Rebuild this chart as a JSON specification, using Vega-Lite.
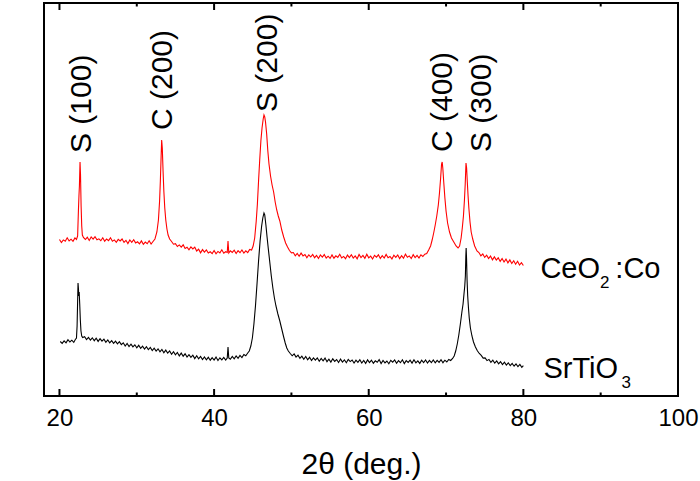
{
  "$schema": "https://vega.github.io/schema/vega-lite/v6.json",
  "width": 634,
  "height": 393,
  "autosize": "none",
  "padding": {"left": 44, "top": 3, "right": 22, "bottom": 85},
  "background": "white",
  "config": {
    "font": "Liberation Sans",
    "view": {"stroke": null},
    "axis": {
      "grid": false,
      "domain": false,
      "tickColor": "black",
      "tickWidth": 2,
      "labelColor": "black",
      "titleColor": "black",
      "titleFontWeight": "normal",
      "labelFont": "Liberation Sans",
      "titleFont": "Liberation Sans"
    }
  },
  "datasets": {
    "frame": [{"t1": 18, "t2": 100, "i1": 0, "i2": 393}],
    "outline": [
      {"t": 18, "i": 0, "k": 1}, {"t": 18, "i": 393, "k": 2}, {"t": 100, "i": 393, "k": 3},
      {"t": 100, "i": 0, "k": 4}, {"t": 18, "i": 0, "k": 5}
    ],
    "major": [{"t": 20}, {"t": 40}, {"t": 60}, {"t": 80}, {"t": 100}],
    "minor": [{"t": 30}, {"t": 50}, {"t": 70}, {"t": 90}],
    "ceo": [
      {"t": 20.0, "i": 156.5}, {"t": 20.25, "i": 153.4}, {"t": 20.5, "i": 156.1}, {"t": 20.75, "i": 154.8},
      {"t": 21.0, "i": 158.2}, {"t": 21.25, "i": 155.0}, {"t": 21.5, "i": 156.8}, {"t": 21.75, "i": 154.7},
      {"t": 22.0, "i": 158.1}, {"t": 22.2, "i": 156.6}, {"t": 22.35, "i": 160}, {"t": 22.45, "i": 185},
      {"t": 22.52, "i": 200}, {"t": 22.58, "i": 210}, {"t": 22.66, "i": 234}, {"t": 22.72, "i": 222},
      {"t": 22.8, "i": 190}, {"t": 22.88, "i": 170}, {"t": 22.96, "i": 161}, {"t": 23.1, "i": 158.5},
      {"t": 23.35, "i": 156.5}, {"t": 23.6, "i": 158.7}, {"t": 23.85, "i": 155.5}, {"t": 24.1, "i": 159.0},
      {"t": 24.35, "i": 156.8}, {"t": 24.6, "i": 159.3}, {"t": 24.85, "i": 156.2}, {"t": 25.1, "i": 157.2},
      {"t": 25.35, "i": 155.3}, {"t": 25.6, "i": 158.2}, {"t": 25.85, "i": 154.8}, {"t": 26.1, "i": 157.0},
      {"t": 26.35, "i": 155.4}, {"t": 26.6, "i": 158.3}, {"t": 26.85, "i": 154.8}, {"t": 27.1, "i": 156.1},
      {"t": 27.35, "i": 153.7}, {"t": 27.6, "i": 156.6}, {"t": 27.85, "i": 155.0}, {"t": 28.1, "i": 157.0},
      {"t": 28.35, "i": 153.6}, {"t": 28.6, "i": 155.7}, {"t": 28.85, "i": 152.4}, {"t": 29.1, "i": 156.0},
      {"t": 29.35, "i": 153.7}, {"t": 29.6, "i": 156.3}, {"t": 29.85, "i": 153.1}, {"t": 30.1, "i": 154.2},
      {"t": 30.35, "i": 152.2}, {"t": 30.6, "i": 155.1}, {"t": 30.85, "i": 151.7}, {"t": 31.1, "i": 153.9},
      {"t": 31.35, "i": 152.3}, {"t": 31.6, "i": 155.2}, {"t": 31.85, "i": 152.0}, {"t": 32.1, "i": 154.5},
      {"t": 32.35, "i": 157}, {"t": 32.6, "i": 164}, {"t": 32.8, "i": 176}, {"t": 32.95, "i": 195},
      {"t": 33.05, "i": 215}, {"t": 33.15, "i": 240}, {"t": 33.22, "i": 256}, {"t": 33.3, "i": 248},
      {"t": 33.4, "i": 225}, {"t": 33.5, "i": 205}, {"t": 33.62, "i": 188}, {"t": 33.75, "i": 176},
      {"t": 33.9, "i": 167}, {"t": 34.05, "i": 161}, {"t": 34.25, "i": 157}, {"t": 34.5, "i": 154.5},
      {"t": 34.75, "i": 151.8}, {"t": 35.0, "i": 152.3}, {"t": 35.25, "i": 149.5}, {"t": 35.5, "i": 151.1},
      {"t": 35.75, "i": 148.9}, {"t": 36.0, "i": 151.2}, {"t": 36.25, "i": 147.6}, {"t": 36.5, "i": 148.8},
      {"t": 36.75, "i": 146.2}, {"t": 37.0, "i": 149.1}, {"t": 37.25, "i": 147.1}, {"t": 37.5, "i": 148.8},
      {"t": 37.75, "i": 145.0}, {"t": 38.0, "i": 146.8}, {"t": 38.25, "i": 143.2}, {"t": 38.5, "i": 146.4},
      {"t": 38.75, "i": 143.8}, {"t": 39.0, "i": 146.0}, {"t": 39.25, "i": 143.0}, {"t": 39.5, "i": 144.2},
      {"t": 39.75, "i": 142.4}, {"t": 40.0, "i": 145.5}, {"t": 40.25, "i": 142.2}, {"t": 40.5, "i": 144.6},
      {"t": 40.75, "i": 143.1}, {"t": 41.0, "i": 146.2}, {"t": 41.25, "i": 142.8}, {"t": 41.5, "i": 144.3},
      {"t": 41.7, "i": 143.5}, {"t": 41.8, "i": 155}, {"t": 41.9, "i": 143}, {"t": 42.1, "i": 145.1},
      {"t": 42.35, "i": 143.6}, {"t": 42.6, "i": 145.8}, {"t": 42.85, "i": 142.5}, {"t": 43.1, "i": 145.4},
      {"t": 43.35, "i": 143.3}, {"t": 43.6, "i": 146.0}, {"t": 43.85, "i": 143.0}, {"t": 44.1, "i": 145.2},
      {"t": 44.35, "i": 143.4}, {"t": 44.6, "i": 146.5}, {"t": 44.85, "i": 146}, {"t": 45.05, "i": 150},
      {"t": 45.25, "i": 158}, {"t": 45.45, "i": 175}, {"t": 45.6, "i": 192}, {"t": 45.75, "i": 215},
      {"t": 45.9, "i": 236}, {"t": 46.05, "i": 255}, {"t": 46.2, "i": 268}, {"t": 46.35, "i": 277},
      {"t": 46.45, "i": 281}, {"t": 46.55, "i": 279}, {"t": 46.65, "i": 274}, {"t": 46.8, "i": 262},
      {"t": 46.95, "i": 245}, {"t": 47.1, "i": 232}, {"t": 47.3, "i": 220}, {"t": 47.5, "i": 211},
      {"t": 47.7, "i": 204}, {"t": 47.9, "i": 194}, {"t": 48.1, "i": 186}, {"t": 48.3, "i": 180},
      {"t": 48.5, "i": 175}, {"t": 48.75, "i": 166}, {"t": 49.0, "i": 159}, {"t": 49.25, "i": 153},
      {"t": 49.5, "i": 149}, {"t": 49.75, "i": 145.5}, {"t": 50.0, "i": 143.2}, {"t": 50.25, "i": 143.5},
      {"t": 50.5, "i": 140.2}, {"t": 50.75, "i": 142.6}, {"t": 51.0, "i": 139.8}, {"t": 51.25, "i": 142.9},
      {"t": 51.5, "i": 140.1}, {"t": 51.75, "i": 141.5}, {"t": 52.0, "i": 138.2}, {"t": 52.25, "i": 141.2},
      {"t": 52.5, "i": 139.0}, {"t": 52.75, "i": 141.6}, {"t": 53.0, "i": 138.3}, {"t": 53.25, "i": 140.5},
      {"t": 53.5, "i": 137.5}, {"t": 53.75, "i": 141.0}, {"t": 54.0, "i": 138.9}, {"t": 54.25, "i": 141.4},
      {"t": 54.5, "i": 138.0}, {"t": 54.75, "i": 139.8}, {"t": 55.0, "i": 137.6}, {"t": 55.25, "i": 141.1},
      {"t": 55.5, "i": 137.8}, {"t": 55.75, "i": 140.2}, {"t": 56.0, "i": 138.6}, {"t": 56.25, "i": 141.7},
      {"t": 56.5, "i": 138.1}, {"t": 56.75, "i": 139.6}, {"t": 57.0, "i": 137.3}, {"t": 57.25, "i": 140.9},
      {"t": 57.5, "i": 138.4}, {"t": 57.75, "i": 141.3}, {"t": 58.0, "i": 137.9}, {"t": 58.25, "i": 140.0},
      {"t": 58.5, "i": 137.2}, {"t": 58.75, "i": 141.5}, {"t": 59.0, "i": 138.5}, {"t": 59.25, "i": 140.6},
      {"t": 59.5, "i": 137.7}, {"t": 59.75, "i": 141.8}, {"t": 60.0, "i": 138.2}, {"t": 60.25, "i": 139.9},
      {"t": 60.5, "i": 137.0}, {"t": 60.75, "i": 140.7}, {"t": 61.0, "i": 138.8}, {"t": 61.25, "i": 141.2},
      {"t": 61.5, "i": 137.6}, {"t": 61.75, "i": 140.3}, {"t": 62.0, "i": 138.0}, {"t": 62.25, "i": 141.6},
      {"t": 62.5, "i": 138.3}, {"t": 62.75, "i": 139.5}, {"t": 63.0, "i": 137.1}, {"t": 63.25, "i": 140.8},
      {"t": 63.5, "i": 138.6}, {"t": 63.75, "i": 141.0}, {"t": 64.0, "i": 137.4}, {"t": 64.25, "i": 140.4},
      {"t": 64.5, "i": 137.8}, {"t": 64.75, "i": 141.9}, {"t": 65.0, "i": 138.7}, {"t": 65.25, "i": 140.1},
      {"t": 65.5, "i": 137.5}, {"t": 65.75, "i": 141.3}, {"t": 66.0, "i": 138.4}, {"t": 66.25, "i": 140.6},
      {"t": 66.5, "i": 137.9}, {"t": 66.75, "i": 141.2}, {"t": 67.0, "i": 139.5}, {"t": 67.25, "i": 141.8},
      {"t": 67.5, "i": 142.5}, {"t": 67.75, "i": 146}, {"t": 68.0, "i": 150}, {"t": 68.2, "i": 156},
      {"t": 68.4, "i": 163}, {"t": 68.6, "i": 171}, {"t": 68.8, "i": 180}, {"t": 69.0, "i": 191},
      {"t": 69.15, "i": 203}, {"t": 69.3, "i": 218}, {"t": 69.42, "i": 232}, {"t": 69.5, "i": 234},
      {"t": 69.58, "i": 228}, {"t": 69.7, "i": 214}, {"t": 69.85, "i": 198}, {"t": 70.0, "i": 185},
      {"t": 70.2, "i": 173}, {"t": 70.45, "i": 164}, {"t": 70.7, "i": 158}, {"t": 71.0, "i": 154},
      {"t": 71.3, "i": 150}, {"t": 71.55, "i": 148}, {"t": 71.75, "i": 150}, {"t": 71.95, "i": 158},
      {"t": 72.1, "i": 168}, {"t": 72.25, "i": 180}, {"t": 72.38, "i": 196}, {"t": 72.48, "i": 212},
      {"t": 72.58, "i": 233}, {"t": 72.66, "i": 228}, {"t": 72.75, "i": 214}, {"t": 72.85, "i": 200},
      {"t": 72.95, "i": 188}, {"t": 73.1, "i": 174}, {"t": 73.25, "i": 164}, {"t": 73.45, "i": 157},
      {"t": 73.7, "i": 150}, {"t": 74.0, "i": 145}, {"t": 74.25, "i": 143.5}, {"t": 74.5, "i": 140.2},
      {"t": 74.75, "i": 142.0}, {"t": 75.0, "i": 138.6}, {"t": 75.25, "i": 140.8}, {"t": 75.5, "i": 137.4},
      {"t": 75.75, "i": 139.9}, {"t": 76.0, "i": 136.2}, {"t": 76.25, "i": 139.1}, {"t": 76.5, "i": 135.9},
      {"t": 76.75, "i": 138.2}, {"t": 77.0, "i": 134.6}, {"t": 77.25, "i": 137.5}, {"t": 77.5, "i": 134.0},
      {"t": 77.75, "i": 136.9}, {"t": 78.0, "i": 133.2}, {"t": 78.25, "i": 136.1}, {"t": 78.5, "i": 132.5},
      {"t": 78.75, "i": 135.3}, {"t": 79.0, "i": 131.8}, {"t": 79.25, "i": 134.7}, {"t": 79.5, "i": 131.0},
      {"t": 79.75, "i": 133.4}, {"t": 80.0, "i": 130.5}
    ],
    "sto": [
      {"t": 20.1, "i": 54.5}, {"t": 20.35, "i": 52.6}, {"t": 20.6, "i": 55.2}, {"t": 20.85, "i": 53.1},
      {"t": 21.1, "i": 56.3}, {"t": 21.35, "i": 54.0}, {"t": 21.6, "i": 55.8}, {"t": 21.85, "i": 53.6},
      {"t": 22.05, "i": 56.5}, {"t": 22.2, "i": 58}, {"t": 22.28, "i": 70}, {"t": 22.35, "i": 95},
      {"t": 22.4, "i": 113}, {"t": 22.45, "i": 108}, {"t": 22.5, "i": 100}, {"t": 22.55, "i": 104},
      {"t": 22.62, "i": 92}, {"t": 22.7, "i": 76}, {"t": 22.78, "i": 65}, {"t": 22.88, "i": 60},
      {"t": 23.0, "i": 58.5}, {"t": 23.25, "i": 59.3}, {"t": 23.5, "i": 56.4}, {"t": 23.75, "i": 58.6},
      {"t": 24.0, "i": 55.9}, {"t": 24.25, "i": 58.2}, {"t": 24.5, "i": 55.3}, {"t": 24.75, "i": 57.8},
      {"t": 25.0, "i": 54.6}, {"t": 25.25, "i": 57.4}, {"t": 25.5, "i": 54.9}, {"t": 25.75, "i": 56.8},
      {"t": 26.0, "i": 53.7}, {"t": 26.25, "i": 56.1}, {"t": 26.5, "i": 53.2}, {"t": 26.75, "i": 55.4},
      {"t": 27.0, "i": 52.6}, {"t": 27.25, "i": 54.9}, {"t": 27.5, "i": 52.1}, {"t": 27.75, "i": 54.3},
      {"t": 28.0, "i": 51.4}, {"t": 28.25, "i": 53.2}, {"t": 28.5, "i": 50.0}, {"t": 28.75, "i": 52.6},
      {"t": 29.0, "i": 49.5}, {"t": 29.25, "i": 51.9}, {"t": 29.5, "i": 49.1}, {"t": 29.75, "i": 51.2},
      {"t": 30.0, "i": 48.2}, {"t": 30.25, "i": 50.7}, {"t": 30.5, "i": 47.6}, {"t": 30.75, "i": 49.8},
      {"t": 31.0, "i": 47.0}, {"t": 31.25, "i": 49.4}, {"t": 31.5, "i": 46.3}, {"t": 31.75, "i": 48.5},
      {"t": 32.0, "i": 45.4}, {"t": 32.25, "i": 47.9}, {"t": 32.5, "i": 45.0}, {"t": 32.75, "i": 47.2},
      {"t": 33.0, "i": 44.1}, {"t": 33.25, "i": 46.6}, {"t": 33.5, "i": 43.2}, {"t": 33.75, "i": 45.9},
      {"t": 34.0, "i": 42.8}, {"t": 34.25, "i": 45.0}, {"t": 34.5, "i": 41.7}, {"t": 34.75, "i": 44.3},
      {"t": 35.0, "i": 41.2}, {"t": 35.25, "i": 43.6}, {"t": 35.5, "i": 40.1}, {"t": 35.75, "i": 42.9},
      {"t": 36.0, "i": 39.8}, {"t": 36.25, "i": 42.2}, {"t": 36.5, "i": 38.9}, {"t": 36.75, "i": 41.3},
      {"t": 37.0, "i": 38.6}, {"t": 37.25, "i": 40.8}, {"t": 37.5, "i": 37.4}, {"t": 37.75, "i": 40.2},
      {"t": 38.0, "i": 37.1}, {"t": 38.25, "i": 39.6}, {"t": 38.5, "i": 36.5}, {"t": 38.75, "i": 39.1},
      {"t": 39.0, "i": 36.2}, {"t": 39.25, "i": 38.7}, {"t": 39.5, "i": 35.8}, {"t": 39.75, "i": 38.4},
      {"t": 40.0, "i": 36.0}, {"t": 40.25, "i": 38.9}, {"t": 40.5, "i": 35.5}, {"t": 40.75, "i": 38.2},
      {"t": 41.0, "i": 36.1}, {"t": 41.25, "i": 38.6}, {"t": 41.5, "i": 35.9}, {"t": 41.7, "i": 38},
      {"t": 41.8, "i": 49}, {"t": 41.9, "i": 38}, {"t": 42.1, "i": 36.8}, {"t": 42.35, "i": 39.6},
      {"t": 42.6, "i": 37.1}, {"t": 42.85, "i": 40.0}, {"t": 43.1, "i": 37.6}, {"t": 43.35, "i": 40.6},
      {"t": 43.6, "i": 38.4}, {"t": 43.85, "i": 41.5}, {"t": 44.1, "i": 40.2}, {"t": 44.35, "i": 43},
      {"t": 44.55, "i": 45}, {"t": 44.75, "i": 50}, {"t": 44.95, "i": 58}, {"t": 45.15, "i": 72},
      {"t": 45.35, "i": 90}, {"t": 45.55, "i": 112}, {"t": 45.75, "i": 135}, {"t": 45.95, "i": 155},
      {"t": 46.15, "i": 170}, {"t": 46.3, "i": 178}, {"t": 46.45, "i": 183}, {"t": 46.55, "i": 181},
      {"t": 46.7, "i": 171}, {"t": 46.85, "i": 159}, {"t": 47.0, "i": 148}, {"t": 47.2, "i": 134},
      {"t": 47.4, "i": 120}, {"t": 47.6, "i": 108}, {"t": 47.8, "i": 98}, {"t": 48.0, "i": 90},
      {"t": 48.25, "i": 82}, {"t": 48.5, "i": 75}, {"t": 48.75, "i": 67}, {"t": 49.0, "i": 59},
      {"t": 49.2, "i": 53}, {"t": 49.4, "i": 48}, {"t": 49.6, "i": 45}, {"t": 49.85, "i": 42.5},
      {"t": 50.1, "i": 40.2}, {"t": 50.35, "i": 42.1}, {"t": 50.6, "i": 38.9}, {"t": 50.85, "i": 40.8},
      {"t": 51.1, "i": 37.6}, {"t": 51.35, "i": 39.9}, {"t": 51.6, "i": 36.8}, {"t": 51.85, "i": 39.5},
      {"t": 52.1, "i": 36.2}, {"t": 52.35, "i": 38.7}, {"t": 52.6, "i": 35.4}, {"t": 52.85, "i": 38.1},
      {"t": 53.1, "i": 35.9}, {"t": 53.35, "i": 38.0}, {"t": 53.6, "i": 34.8}, {"t": 53.85, "i": 37.6},
      {"t": 54.1, "i": 35.2}, {"t": 54.35, "i": 37.9}, {"t": 54.6, "i": 34.3}, {"t": 54.85, "i": 36.8},
      {"t": 55.1, "i": 33.9}, {"t": 55.35, "i": 37.2}, {"t": 55.6, "i": 34.6}, {"t": 55.85, "i": 36.5},
      {"t": 56.1, "i": 33.5}, {"t": 56.35, "i": 36.9}, {"t": 56.6, "i": 34.0}, {"t": 56.85, "i": 36.2},
      {"t": 57.1, "i": 33.2}, {"t": 57.35, "i": 36.6}, {"t": 57.6, "i": 34.4}, {"t": 57.85, "i": 36.0},
      {"t": 58.1, "i": 32.9}, {"t": 58.35, "i": 35.8}, {"t": 58.6, "i": 33.6}, {"t": 58.85, "i": 36.3},
      {"t": 59.1, "i": 33.0}, {"t": 59.35, "i": 35.5}, {"t": 59.6, "i": 32.6}, {"t": 59.85, "i": 36.1},
      {"t": 60.1, "i": 33.4}, {"t": 60.35, "i": 35.9}, {"t": 60.6, "i": 32.8}, {"t": 60.85, "i": 35.2},
      {"t": 61.1, "i": 33.7}, {"t": 61.35, "i": 36.4}, {"t": 61.6, "i": 32.5}, {"t": 61.85, "i": 35.6},
      {"t": 62.1, "i": 33.1}, {"t": 62.35, "i": 35.0}, {"t": 62.6, "i": 32.3}, {"t": 62.85, "i": 35.7},
      {"t": 63.1, "i": 33.8}, {"t": 63.35, "i": 36.0}, {"t": 63.6, "i": 32.7}, {"t": 63.85, "i": 35.3},
      {"t": 64.1, "i": 33.3}, {"t": 64.35, "i": 36.2}, {"t": 64.6, "i": 32.4}, {"t": 64.85, "i": 35.4},
      {"t": 65.1, "i": 33.6}, {"t": 65.35, "i": 35.8}, {"t": 65.6, "i": 32.9}, {"t": 65.85, "i": 36.3},
      {"t": 66.1, "i": 33.2}, {"t": 66.35, "i": 35.1}, {"t": 66.6, "i": 32.6}, {"t": 66.85, "i": 35.9},
      {"t": 67.1, "i": 33.5}, {"t": 67.35, "i": 36.0}, {"t": 67.6, "i": 33.0}, {"t": 67.85, "i": 35.6},
      {"t": 68.1, "i": 33.4}, {"t": 68.35, "i": 36.1}, {"t": 68.6, "i": 33.1}, {"t": 68.85, "i": 35.7},
      {"t": 69.1, "i": 33.6}, {"t": 69.35, "i": 36.3}, {"t": 69.6, "i": 33.3}, {"t": 69.85, "i": 35.8},
      {"t": 70.1, "i": 34.0}, {"t": 70.35, "i": 36.5}, {"t": 70.6, "i": 35.5}, {"t": 70.85, "i": 37.5},
      {"t": 71.05, "i": 40}, {"t": 71.25, "i": 45}, {"t": 71.45, "i": 52}, {"t": 71.65, "i": 61},
      {"t": 71.85, "i": 72}, {"t": 72.05, "i": 84}, {"t": 72.2, "i": 92}, {"t": 72.32, "i": 102},
      {"t": 72.42, "i": 110}, {"t": 72.5, "i": 120}, {"t": 72.56, "i": 140}, {"t": 72.6, "i": 148},
      {"t": 72.65, "i": 138}, {"t": 72.72, "i": 116}, {"t": 72.8, "i": 100}, {"t": 72.9, "i": 88},
      {"t": 73.0, "i": 78}, {"t": 73.15, "i": 68}, {"t": 73.35, "i": 60}, {"t": 73.55, "i": 54},
      {"t": 73.8, "i": 49}, {"t": 74.05, "i": 45.2}, {"t": 74.3, "i": 42.5}, {"t": 74.55, "i": 40.6},
      {"t": 74.8, "i": 37.9}, {"t": 75.05, "i": 38.1}, {"t": 75.3, "i": 35.4}, {"t": 75.55, "i": 36.6},
      {"t": 75.8, "i": 33.7}, {"t": 76.05, "i": 35.9}, {"t": 76.3, "i": 32.8}, {"t": 76.55, "i": 35.0},
      {"t": 76.8, "i": 32.1}, {"t": 77.05, "i": 34.4}, {"t": 77.3, "i": 31.5}, {"t": 77.55, "i": 33.8},
      {"t": 77.8, "i": 30.9}, {"t": 78.05, "i": 33.2}, {"t": 78.3, "i": 30.4}, {"t": 78.55, "i": 32.6},
      {"t": 78.8, "i": 29.8}, {"t": 79.05, "i": 32.1}, {"t": 79.3, "i": 29.3}, {"t": 79.55, "i": 31.5},
      {"t": 79.8, "i": 28.7}, {"t": 80.0, "i": 30.4}
    ],
    "peaks": [
      {"t": 22.9, "i": 243, "label": "S (100)"},
      {"t": 33.4, "i": 266, "label": "C (200)"},
      {"t": 47.0, "i": 284, "label": "S (200)"},
      {"t": 69.6, "i": 244, "label": "C (400)"},
      {"t": 74.7, "i": 244, "label": "S (300)"}
    ],
    "names": [
      {"t": 82.2, "i": 118, "label": "CeO"},
      {"t": 91.9, "i": 118, "label": ":Co"},
      {"t": 82.6, "i": 18, "label": "SrTiO"}
    ],
    "subs": [
      {"t": 89.9, "i": 108, "label": "2"},
      {"t": 92.7, "i": 8, "label": "3"}
    ]
  },
  "layer": [
    {
      "data": {"name": "frame"},
      "mark": {"type": "rect", "fill": null, "fillOpacity": 0, "stroke": "black", "strokeWidth": 2},
      "encoding": {
        "x": {
          "field": "t1", "type": "quantitative",
          "scale": {"domain": [18, 100], "nice": false, "zero": false},
          "axis": {
            "orient": "bottom", "values": [20, 40, 60, 80, 100], "ticks": false,
            "labelFontSize": 24, "labelPadding": 10, "labelFlush": false, "labelOverlap": false,
            "title": "2θ (deg.)", "titleFontSize": 30, "titleY": 77, "titleBaseline": "alphabetic"
          }
        },
        "x2": {"field": "t2"},
        "y": {
          "field": "i1", "type": "quantitative",
          "scale": {"domain": [0, 393], "nice": false, "zero": false},
          "axis": {
            "orient": "left", "ticks": false, "labels": false, "title": "Intensity (arb. units)",
            "titleFontSize": 30, "titleX": -17, "titleY": 190, "titleBaseline": "alphabetic", "titleAngle": 270
          }
        },
        "y2": {"field": "i2"}
      }
    },
    {
      "data": {"name": "outline"},
      "mark": {"type": "line", "color": "black", "strokeWidth": 2, "strokeCap": "square"},
      "encoding": {
        "x": {"field": "t", "type": "quantitative", "axis": null},
        "y": {"field": "i", "type": "quantitative", "axis": null},
        "order": {"field": "k", "type": "quantitative"}
      }
    },
    {
      "data": {"name": "major"},
      "mark": {"type": "tick", "orient": "vertical", "color": "black", "size": 7, "thickness": 2, "yOffset": -3.5, "opacity": 1},
      "encoding": {
        "x": {"field": "t", "type": "quantitative", "axis": null},
        "y": {"datum": 0, "type": "quantitative", "axis": null}
      }
    },
    {
      "data": {"name": "major"},
      "mark": {"type": "tick", "orient": "vertical", "color": "black", "size": 7, "thickness": 2, "yOffset": 3.5, "opacity": 1},
      "encoding": {
        "x": {"field": "t", "type": "quantitative", "axis": null},
        "y": {"datum": 393, "type": "quantitative", "axis": null}
      }
    },
    {
      "data": {"name": "minor"},
      "mark": {"type": "tick", "orient": "vertical", "color": "black", "size": 3.5, "thickness": 2, "yOffset": -1.75, "opacity": 1},
      "encoding": {
        "x": {"field": "t", "type": "quantitative", "axis": null},
        "y": {"datum": 0, "type": "quantitative", "axis": null}
      }
    },
    {
      "data": {"name": "minor"},
      "mark": {"type": "tick", "orient": "vertical", "color": "black", "size": 3.5, "thickness": 2, "yOffset": 1.75, "opacity": 1},
      "encoding": {
        "x": {"field": "t", "type": "quantitative", "axis": null},
        "y": {"datum": 393, "type": "quantitative", "axis": null}
      }
    },
    {
      "data": {"name": "ceo"},
      "mark": {"type": "line", "color": "#ff0000", "strokeWidth": 1.1},
      "encoding": {
        "x": {"field": "t", "type": "quantitative", "axis": null},
        "y": {"field": "i", "type": "quantitative", "axis": null}
      }
    },
    {
      "data": {"name": "sto"},
      "mark": {"type": "line", "color": "#000000", "strokeWidth": 1.1},
      "encoding": {
        "x": {"field": "t", "type": "quantitative", "axis": null},
        "y": {"field": "i", "type": "quantitative", "axis": null}
      }
    },
    {
      "data": {"name": "peaks"},
      "mark": {"type": "text", "angle": 270, "align": "left", "baseline": "middle", "fontSize": 30, "font": "Liberation Sans", "color": "black"},
      "encoding": {
        "x": {"field": "t", "type": "quantitative", "axis": null},
        "y": {"field": "i", "type": "quantitative", "axis": null},
        "text": {"field": "label"}
      }
    },
    {
      "data": {"name": "names"},
      "mark": {"type": "text", "align": "left", "baseline": "alphabetic", "fontSize": 29, "font": "Liberation Sans", "color": "black"},
      "encoding": {
        "x": {"field": "t", "type": "quantitative", "axis": null},
        "y": {"field": "i", "type": "quantitative", "axis": null},
        "text": {"field": "label"}
      }
    },
    {
      "data": {"name": "subs"},
      "mark": {"type": "text", "align": "left", "baseline": "alphabetic", "fontSize": 17, "font": "Liberation Sans", "color": "black"},
      "encoding": {
        "x": {"field": "t", "type": "quantitative", "axis": null},
        "y": {"field": "i", "type": "quantitative", "axis": null},
        "text": {"field": "label"}
      }
    }
  ],
  "resolve": {"axis": {"x": "independent"}}
}
